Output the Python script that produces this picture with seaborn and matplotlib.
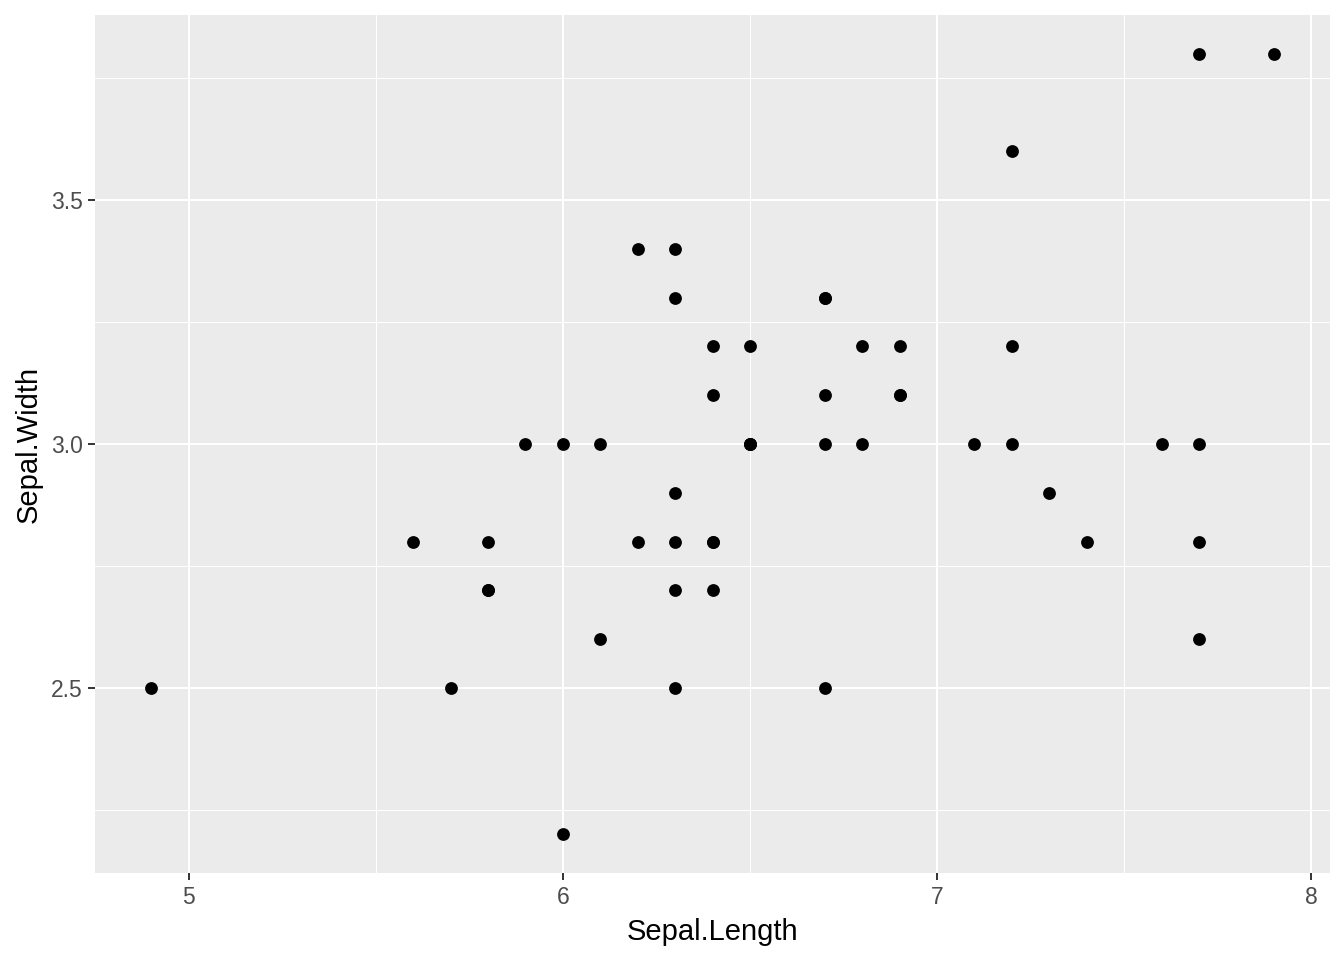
import matplotlib
matplotlib.use("Agg")
import matplotlib.pyplot as plt
import seaborn as sns
import pandas as pd
from matplotlib.ticker import MultipleLocator

# iris, virginica subset
sepal_length = [6.3, 5.8, 7.1, 6.3, 6.5, 7.6, 4.9, 7.3, 6.7, 7.2,
                6.5, 6.4, 6.8, 5.7, 5.8, 6.4, 6.5, 7.7, 7.7, 6.0,
                6.9, 5.6, 7.7, 6.3, 6.7, 7.2, 6.2, 6.1, 6.4, 7.2,
                7.4, 7.9, 6.4, 6.3, 6.1, 7.7, 6.3, 6.4, 6.0, 6.9,
                6.7, 6.9, 5.8, 6.8, 6.7, 6.7, 6.3, 6.5, 6.2, 5.9]
sepal_width = [3.3, 2.7, 3.0, 2.9, 3.0, 3.0, 2.5, 2.9, 2.5, 3.6,
               3.2, 2.7, 3.0, 2.5, 2.8, 3.2, 3.0, 3.8, 2.6, 2.2,
               3.2, 2.8, 2.8, 2.7, 3.3, 3.2, 2.8, 3.0, 2.8, 3.0,
               2.8, 3.8, 2.8, 2.8, 2.6, 3.0, 3.4, 3.1, 3.0, 3.1,
               3.1, 3.1, 2.7, 3.2, 3.3, 3.0, 2.5, 3.0, 3.4, 3.0]

df = pd.DataFrame({"Sepal.Length": sepal_length, "Sepal.Width": sepal_width})

sns.set_theme(style="darkgrid", rc={
    "axes.facecolor": "#EBEBEB",
    "grid.color": "white",
})
plt.rcParams['font.family'] = ['Liberation Sans', 'DejaVu Sans']

fig = plt.figure(figsize=(13.44, 9.6), dpi=100)
ax = fig.add_axes([0.0707, 0.0906, 0.9189, 0.8938])

sns.scatterplot(data=df, x="Sepal.Length", y="Sepal.Width", ax=ax,
                color="black", s=85, linewidth=0, zorder=3)

ax.set_xlim(4.75, 8.05)
ax.set_ylim(2.12, 3.88)
ax.xaxis.set_major_locator(MultipleLocator(1))
ax.xaxis.set_minor_locator(MultipleLocator(0.5))
ax.yaxis.set_minor_locator(MultipleLocator(0.25))
ax.set_yticks([2.5, 3.0, 3.5])
ax.set_yticklabels(["2.5", "3.0", "3.5"])

ax.grid(which="major", color="white", linewidth=1.5)
ax.grid(which="minor", color="white", linewidth=0.75)
for s in ax.spines.values():
    s.set_visible(False)

ax.tick_params(which="major", length=5, width=1.4, color="#333333",
               labelsize=16.5, labelcolor="#4D4D4D", pad=4,
               bottom=True, left=True)
ax.tick_params(which="minor", length=0)

ax.set_xlabel("Sepal.Length", fontsize=21, color="black", labelpad=7)
ax.set_ylabel("Sepal.Width", fontsize=21, color="black", labelpad=6)

fig.savefig("out.png", dpi=100)
